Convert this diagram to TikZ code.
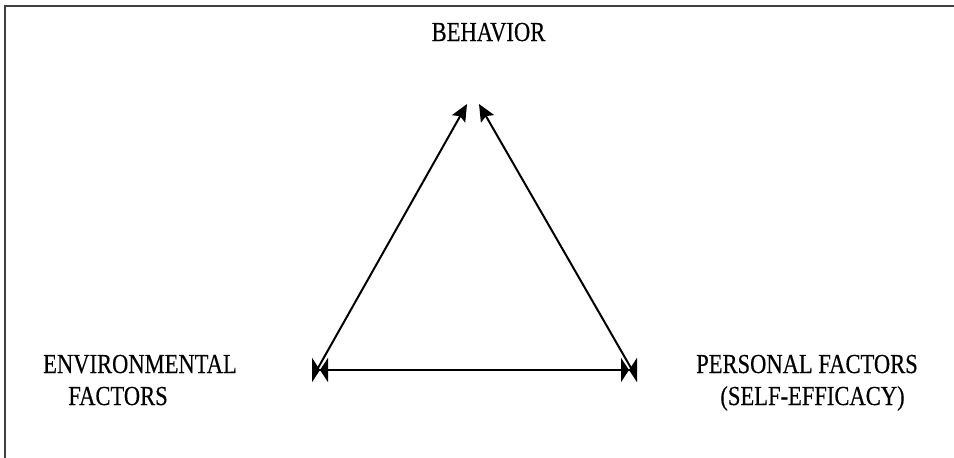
\documentclass[tikz,border=0pt]{standalone}
\usepackage{fontspec}
\setmainfont[FakeBold=0.4]{Liberation Serif}
\usetikzlibrary{arrows.meta}
\tikzset{
  lbl/.style={inner sep=0pt, anchor=base, font=\fontsize{27.5}{32}\selectfont},
  frame/.style={draw=black!75, line width=2pt},
  link/.style={draw=black, line width=2pt},
  uptip/.style={-{Stealth[length=17pt,width=15pt,inset=3pt]}},
  bowtie/.style={{Triangle[length=8pt,width=24pt,sep=0pt,reversed]Triangle[length=8pt,width=24pt,sep=0pt]}-{Triangle[length=8pt,width=24pt,sep=0pt]Triangle[length=8pt,width=24pt,sep=0pt,reversed]}}
}
\newcommand{\sq}[1]{\scalebox{0.82}[1]{#1}}
\begin{document}
\begin{tikzpicture}[x=1pt,y=-1pt]
\useasboundingbox (0,0) rectangle (954,458);
% frame
\coordinate (F1) at (5,458);
\coordinate (F2) at (5,6);
\coordinate (F3) at (954,6);
\draw[frame] (F1) -- (F2) -- (F3);
% labels
\node[lbl] (beh) at (488.5,41) {\sq{BEHAVIOR}};
\node[lbl] (env1) at (140,373) {\sq{ENVIRONMENTAL}};
\node[lbl] (env2) at (118,405) {\sq{FACTORS}};
\node[lbl] (per1) at (807,373) {\sq{PERSONAL FACTORS}};
\node[lbl] (per2) at (812.5,405) {\sq{(SELF-EFFICACY)}};
% triangle points
\coordinate (L) at (312,370);
\coordinate (R) at (637,370);
\coordinate (Ld) at (318,368);
\coordinate (Rd) at (631,368);
\coordinate (TL) at (467,104);
\coordinate (TR) at (479,104);
\draw[link,uptip] (Ld) -- (TL);
\draw[link,uptip] (Rd) -- (TR);
\draw[link,bowtie] (L) -- (R);
\end{tikzpicture}
\end{document}
